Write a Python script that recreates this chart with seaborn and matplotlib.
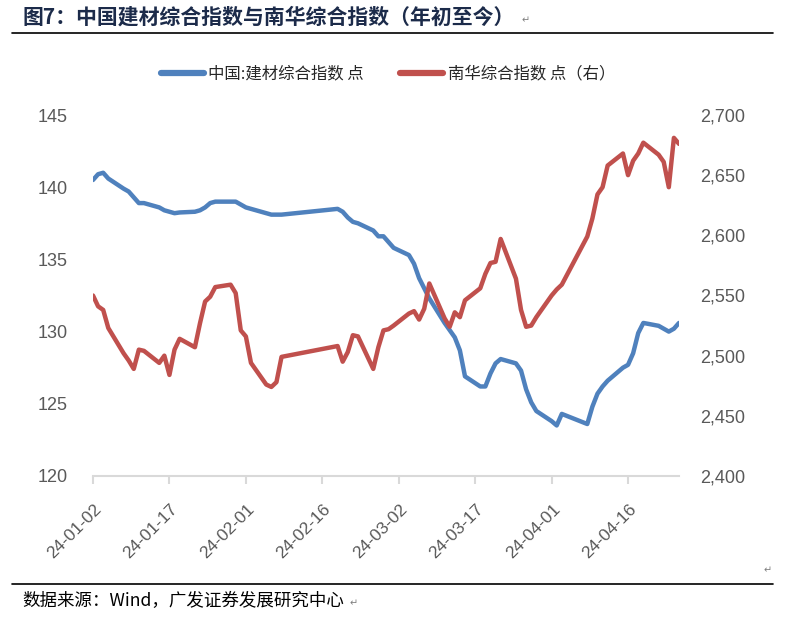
import numpy as np
import matplotlib
matplotlib.use("Agg")
import matplotlib.pyplot as plt
import matplotlib.dates as mdates
import matplotlib.transforms as mtransforms
from matplotlib.lines import Line2D
from matplotlib.ticker import FuncFormatter
import pandas as pd
import seaborn as sns

# 交易日
dates = (
    ["2024-01-%02d" % d for d in [2, 3, 4, 5, 8, 9, 10, 11, 12, 15, 16, 17, 18, 19,
                                  22, 23, 24, 25, 26, 29, 30, 31]]
    + ["2024-02-%02d" % d for d in [1, 2, 5, 6, 7, 8, 19, 20, 21, 22, 23, 26, 27, 28, 29]]
    + ["2024-03-%02d" % d for d in [1, 4, 5, 6, 7, 8, 11, 12, 13, 14, 15, 18, 19, 20, 21,
                                    22, 25, 26, 27, 28, 29]]
    + ["2024-04-%02d" % d for d in [1, 2, 3, 8, 9, 10, 11, 12, 15, 16, 17, 18, 19,
                                    22, 23, 24, 25, 26]]
)

# 中国:建材综合指数（左轴）
jiancai = [
    140.5, 140.9, 141.0, 140.6, 139.9, 139.7, 139.3, 138.9, 138.9, 138.6, 138.4,
    138.3, 138.2, 138.25, 138.3, 138.4, 138.6, 138.9, 139.0, 139.0, 139.0, 138.8,
    138.6, 138.5, 138.2, 138.1, 138.1, 138.1, 138.5, 138.3, 137.9, 137.6, 137.5,
    137.0, 136.6, 136.6, 136.2,
    135.8, 135.3, 134.7, 133.7, 133.0, 132.3, 130.6, 130.1, 129.6, 128.7, 126.9,
    126.2, 126.2, 127.1, 127.8, 128.1, 127.8, 127.3, 126.0, 125.1, 124.5,
    123.8, 123.5, 124.3, 123.6, 124.8, 125.7, 126.2, 126.6, 127.5, 127.7, 128.5,
    129.9, 130.6, 130.4, 130.2, 130.0, 130.2, 130.6,
]

# 南华综合指数（右轴）
nanhua = [
    2550, 2541, 2538, 2523, 2502, 2496, 2489, 2505, 2504, 2494, 2500, 2484, 2505,
    2514, 2507, 2527, 2545, 2549, 2557, 2559, 2552, 2521,
    2516, 2494, 2476, 2474, 2478, 2499, 2508, 2495, 2503, 2517, 2516, 2489, 2507,
    2521, 2522,
    2525, 2535, 2537, 2530, 2539, 2560, 2531, 2524, 2536, 2532, 2546, 2556, 2568,
    2577, 2578, 2597, 2564, 2538, 2524, 2525, 2532,
    2550, 2555, 2559, 2599, 2614, 2634, 2640, 2658, 2668, 2650, 2662, 2668, 2677,
    2667, 2661, 2640, 2681, 2676,
]

label_left = "中国:建材综合指数 点"
label_right = "南华综合指数 点（右）"
title = "图7：中国建材综合指数与南华综合指数（年初至今）"
source = "数据来源：Wind，广发证券发展研究中心"

df = pd.DataFrame({"date": pd.to_datetime(dates), "jiancai": jiancai, "nanhua": nanhua})

sns.set_theme(style="white")
plt.rcParams["font.family"] = ["Liberation Sans", "Noto Sans CJK SC", "DejaVu Sans"]
cjk = ["Noto Sans CJK SC", "DejaVu Sans"]

blue = "#4f81bd"
red = "#c0504d"
grey = "#595959"

fig = plt.figure(figsize=(7.9, 6.19), dpi=100)
ax = fig.add_axes([93 / 790, 1 - 476 / 619, 586 / 790, 361 / 619])
ax2 = ax.twinx()

sns.lineplot(data=df, x="date", y="jiancai", ax=ax, color=blue, linewidth=3.2,
             legend=False)
sns.lineplot(data=df, x="date", y="nanhua", ax=ax2, color=red, linewidth=3.2,
             legend=False)
for a in (ax, ax2):
    for ln in a.get_lines():
        ln.set_solid_joinstyle("round")
        ln.set_solid_capstyle("round")

ax.set_xlim(df["date"].iloc[0], df["date"].iloc[-1])
ax.set_ylim(120, 145)
ax.set_yticks(np.arange(120, 146, 5))
ax2.set_ylim(2400, 2700)
ax2.set_yticks(np.arange(2400, 2701, 50))
ax2.yaxis.set_major_formatter(FuncFormatter(lambda v, p: f"{v:,.0f}"))

xt = pd.date_range("2024-01-02", "2024-04-26", freq="15D")
ax.set_xticks(xt)
ax.xaxis.set_major_formatter(mdates.DateFormatter("%y-%m-%d"))

ax.set_xlabel("")
ax.set_ylabel("")
ax2.set_ylabel("")

for a in (ax, ax2):
    for s in ["top", "left", "right", "bottom"]:
        a.spines[s].set_visible(False)
ax.spines["bottom"].set_visible(True)
ax.spines["bottom"].set_color("#d9d9d9")
ax.spines["bottom"].set_linewidth(1.5)

ax.tick_params(axis="x", which="major", direction="out", length=6, width=1.5,
               color="#d9d9d9", labelsize=12.5, labelcolor=grey, pad=16, bottom=True)
ax.tick_params(axis="y", length=0, labelsize=13, labelcolor=grey, pad=18)
ax2.tick_params(axis="y", length=0, labelsize=13, labelcolor=grey, pad=15)
shift = mtransforms.ScaledTranslation(6 / 100, 0, fig.dpi_scale_trans)
for lb in ax.get_xticklabels():
    lb.set_rotation(45)
    lb.set_ha("right")
    lb.set_va("center")
    lb.set_rotation_mode("anchor")
    lb.set_transform(lb.get_transform() + shift)

handles = [Line2D([], [], color=blue, linewidth=4.5, solid_capstyle="round"),
           Line2D([], [], color=red, linewidth=4.5, solid_capstyle="round")]
fig.legend(handles, [label_left, label_right], loc="center",
           bbox_to_anchor=(388 / 790, 1 - 74 / 619), ncol=2, frameon=False,
           prop={"family": cjk, "size": 11.8}, labelcolor="#262626",
           handlelength=2.6, handletextpad=0.3, columnspacing=2.2)

fig.text(22 / 790, 1 - 17 / 619, title, ha="left", va="center", fontsize=15,
         fontweight="bold", color="#1c2b4a", family=cjk)
fig.text(522 / 790, 1 - 20 / 619, "↵", ha="left", va="center", fontsize=7,
         color="#7f7f7f", family=["DejaVu Sans"])
fig.add_artist(Line2D([12 / 790, 773 / 790], [1 - 33 / 619, 1 - 33 / 619],
                      color="black", linewidth=1.2, transform=fig.transFigure))
fig.text(768 / 790, 1 - 570 / 619, "↵", ha="center", va="center", fontsize=7,
         color="#7f7f7f", family=["DejaVu Sans"])
fig.add_artist(Line2D([12 / 790, 773 / 790], [1 - 584 / 619, 1 - 584 / 619],
                      color="black", linewidth=1.2, transform=fig.transFigure))
fig.text(22 / 790, 1 - 601 / 619, source, ha="left", va="center", fontsize=12.6,
         color="black", family=cjk)
fig.text(350 / 790, 1 - 603 / 619, "↵", ha="left", va="center", fontsize=7,
         color="#7f7f7f", family=["DejaVu Sans"])

fig.savefig("out.png", dpi=100)
plt.close(fig)
